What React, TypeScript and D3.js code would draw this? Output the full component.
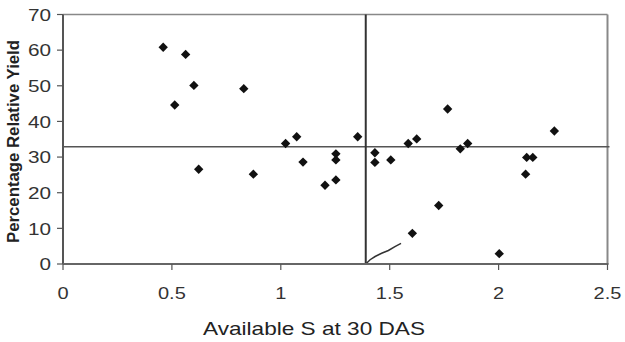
import React from "react";
import * as d3 from "d3";

const sValues = [0.46, 0.513, 0.563, 0.601, 0.623, 0.83, 0.874, 1.022, 1.073, 1.102, 1.203, 1.253, 1.253, 1.253, 1.353, 1.432, 1.432, 1.505, 1.585, 1.604, 1.624, 1.725, 1.766, 1.824, 1.858, 2.003, 2.124, 2.129, 2.157, 2.256];
const yieldValues = [60.8, 44.6, 58.8, 50.1, 26.6, 49.2, 25.2, 33.8, 35.7, 28.6, 22.1, 30.9, 29.2, 23.6, 35.7, 31.2, 28.5, 29.2, 33.8, 8.6, 35.1, 16.4, 43.5, 32.3, 33.8, 2.9, 25.2, 29.9, 29.9, 37.3];
const curveX = [1.39, 1.41, 1.433, 1.463, 1.494, 1.524, 1.552];
const curveY = [0, 1.2, 2.1, 3.0, 3.8, 4.9, 5.8];
const criticalS = 1.39;
const criticalYield = 32.9;
const xTicks = [0, 0.5, 1, 1.5, 2, 2.5];
const yTicks = [0, 10, 20, 30, 40, 50, 60, 70];
const xTitle = "Available S at 30 DAS";
const yTitle = "Percentage Relative Yield";

const W = 625, H = 342;
const left = 63, right = 607.5, top = 14.5, bottom = 264;

export default function App() {
  const x = d3.scaleLinear().domain([0, 2.5]).range([left, right]);
  const y = d3.scaleLinear().domain([0, 70]).range([bottom, top]);
  const line = d3.line<number>().x((_, i) => x(curveX[i])).y((d) => y(d));
  const diamond = d3.symbol().type(d3.symbolDiamond2).size(56)();
  const font = "Arial, 'Liberation Sans', sans-serif";
  return (
    <svg width={W} height={H} style={{ position: "absolute", left: 0, top: 0, background: "#fff" }}>
      {/* frame */}
      <line x1={left} x2={right} y1={top} y2={top} stroke="#888" strokeWidth={1.5} />
      <line x1={right} x2={right} y1={top} y2={bottom} stroke="#888" strokeWidth={2} />
      {/* reference lines */}
      <line x1={left} x2={x(2.5) + 2} y1={y(criticalYield)} y2={y(criticalYield)} stroke="#555" strokeWidth={1.3} />
      <line x1={x(criticalS)} x2={x(criticalS)} y1={top} y2={bottom} stroke="#333" strokeWidth={2} />
      <path d={line(curveY) || ""} fill="none" stroke="#333" strokeWidth={1.5} />
      {/* axes */}
      <line x1={left} x2={left} y1={top} y2={bottom} stroke="#555" strokeWidth={2} />
      <line x1={left} x2={right + 1} y1={bottom} y2={bottom} stroke="#666" strokeWidth={2.2} />
      {yTicks.map((t) => (
        <g key={"y" + t}>
          <line x1={left - 6} x2={left} y1={y(t)} y2={y(t)} stroke="#555" strokeWidth={1.2} />
          <text transform={`translate(${left - 12},${y(t) + 6.2}) scale(1.22,1)`} textAnchor="end" fontFamily={font} fontSize={17} fill="#333">{t}</text>
        </g>
      ))}
      {xTicks.map((t) => (
        <g key={"x" + t}>
          <line x1={x(t)} x2={x(t)} y1={bottom} y2={bottom + 6} stroke="#555" strokeWidth={1.2} />
          <text transform={`translate(${x(t)},${bottom + 35}) scale(1.25,1)`} textAnchor="middle" fontFamily={font} fontSize={16} fill="#333">{t}</text>
        </g>
      ))}
      {sValues.map((s, i) => (
        <path key={i} d={diamond} transform={`translate(${x(s)},${y(yieldValues[i])})`} fill="#111" />
      ))}
      <text x={314} y={335} textAnchor="middle" fontFamily={font} fontSize={19} fill="#222" textLength={222} lengthAdjust="spacingAndGlyphs">{xTitle}</text>
      <text transform={`translate(19,141.5) rotate(-90)`} textAnchor="middle" fontFamily={font} fontSize={16} fontWeight="bold" fill="#222" textLength={203} lengthAdjust="spacingAndGlyphs">{yTitle}</text>
    </svg>
  );
}
